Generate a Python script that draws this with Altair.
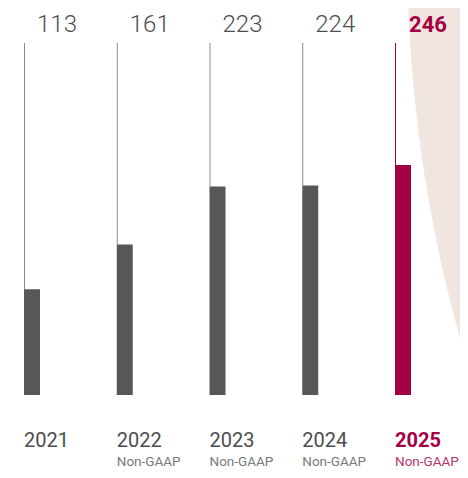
import altair as alt
import pandas as pd

years = [2021, 2022, 2023, 2024, 2025]
values = [113, 161, 223, 224, 246]
subtitles = ["", "Non-GAAP", "Non-GAAP", "Non-GAAP", "Non-GAAP"]

GREY_BAR = "#575755"
GREY_LINE = "#8c8c8c"
GREY_TEXT = "#4d4d4d"
CRIMSON = "#a40044"
BEIGE = "#f0e6df"

df = pd.DataFrame({"year": years, "value": values, "sub": subtitles,
                   "label": [str(y) for y in years]})
df["hl"] = df["year"] == 2025

xs = alt.X("year:Q", axis=None,
           scale=alt.Scale(domain=[2021, 2025], range=[24, 395], padding=0, nice=False, zero=False))
ys = alt.Y("value:Q", axis=None,
           scale=alt.Scale(domain=[0, 414], range=[387, 0], nice=False, padding=0))

base = alt.Chart(df)

bg = alt.Chart(pd.DataFrame({"a": [0]})).mark_arc(clip=True, color=BEIGE).encode(
    x=alt.value(1810), y=alt.value(-51), radius=alt.value(1410),
    theta=alt.value(0), theta2=alt.value(6.2832)
)

color_line = alt.when(alt.datum.hl).then(alt.value(CRIMSON)).otherwise(alt.value(GREY_LINE))
color_bar = alt.when(alt.datum.hl).then(alt.value(CRIMSON)).otherwise(alt.value(GREY_BAR))

lines = base.mark_rule(strokeWidth=1, xOffset=-7.5).encode(
    x=xs, y=ys, y2=alt.value(35), color=color_line
)
bars = base.mark_bar(width=16).encode(
    x=xs, y=ys, y2=alt.datum(0), color=color_bar
)

top_reg = base.transform_filter("!datum.hl").mark_text(
    font="Roboto", fontWeight=300, fontSize=24, align="center", baseline="alphabetic",
    xOffset=25, color=GREY_TEXT
).encode(x=xs, y=alt.value(24), text="value:N")
top_hl = base.transform_filter("datum.hl").mark_text(
    font="Roboto", fontWeight="bold", fontSize=22, align="center", baseline="alphabetic",
    xOffset=25, color=CRIMSON
).encode(x=xs, y=alt.value(24), text="value:N")

yr_reg = base.transform_filter("!datum.hl").mark_text(
    font="Roboto", fontSize=20, align="left", baseline="alphabetic",
    xOffset=-8, color=GREY_TEXT
).encode(x=xs, y=alt.value(439), text="label:N")
yr_hl = base.transform_filter("datum.hl").mark_text(
    font="Roboto", fontWeight="bold", fontSize=20, align="left", baseline="alphabetic",
    xOffset=-8, color=CRIMSON
).encode(x=xs, y=alt.value(439), text="label:N")

sub_reg = base.transform_filter("!datum.hl").mark_text(
    font="Roboto", fontSize=13.5, align="left", baseline="alphabetic",
    xOffset=-8, color="#7a7a7a"
).encode(x=xs, y=alt.value(458), text="sub:N")
sub_hl = base.transform_filter("datum.hl").mark_text(
    font="Roboto", fontSize=13.5, align="left", baseline="alphabetic",
    xOffset=-8, color="#b8366c"
).encode(x=xs, y=alt.value(458), text="sub:N")

chart = alt.layer(bg, lines, bars, top_reg, top_hl, yr_reg, yr_hl, sub_reg, sub_hl).properties(
    width=452, height=462, padding=0,
    autosize=alt.AutoSizeParams(type="none")
).configure_view(strokeWidth=0)

chart.save("out.html", embed_options={"renderer": "svg", "actions": False})
